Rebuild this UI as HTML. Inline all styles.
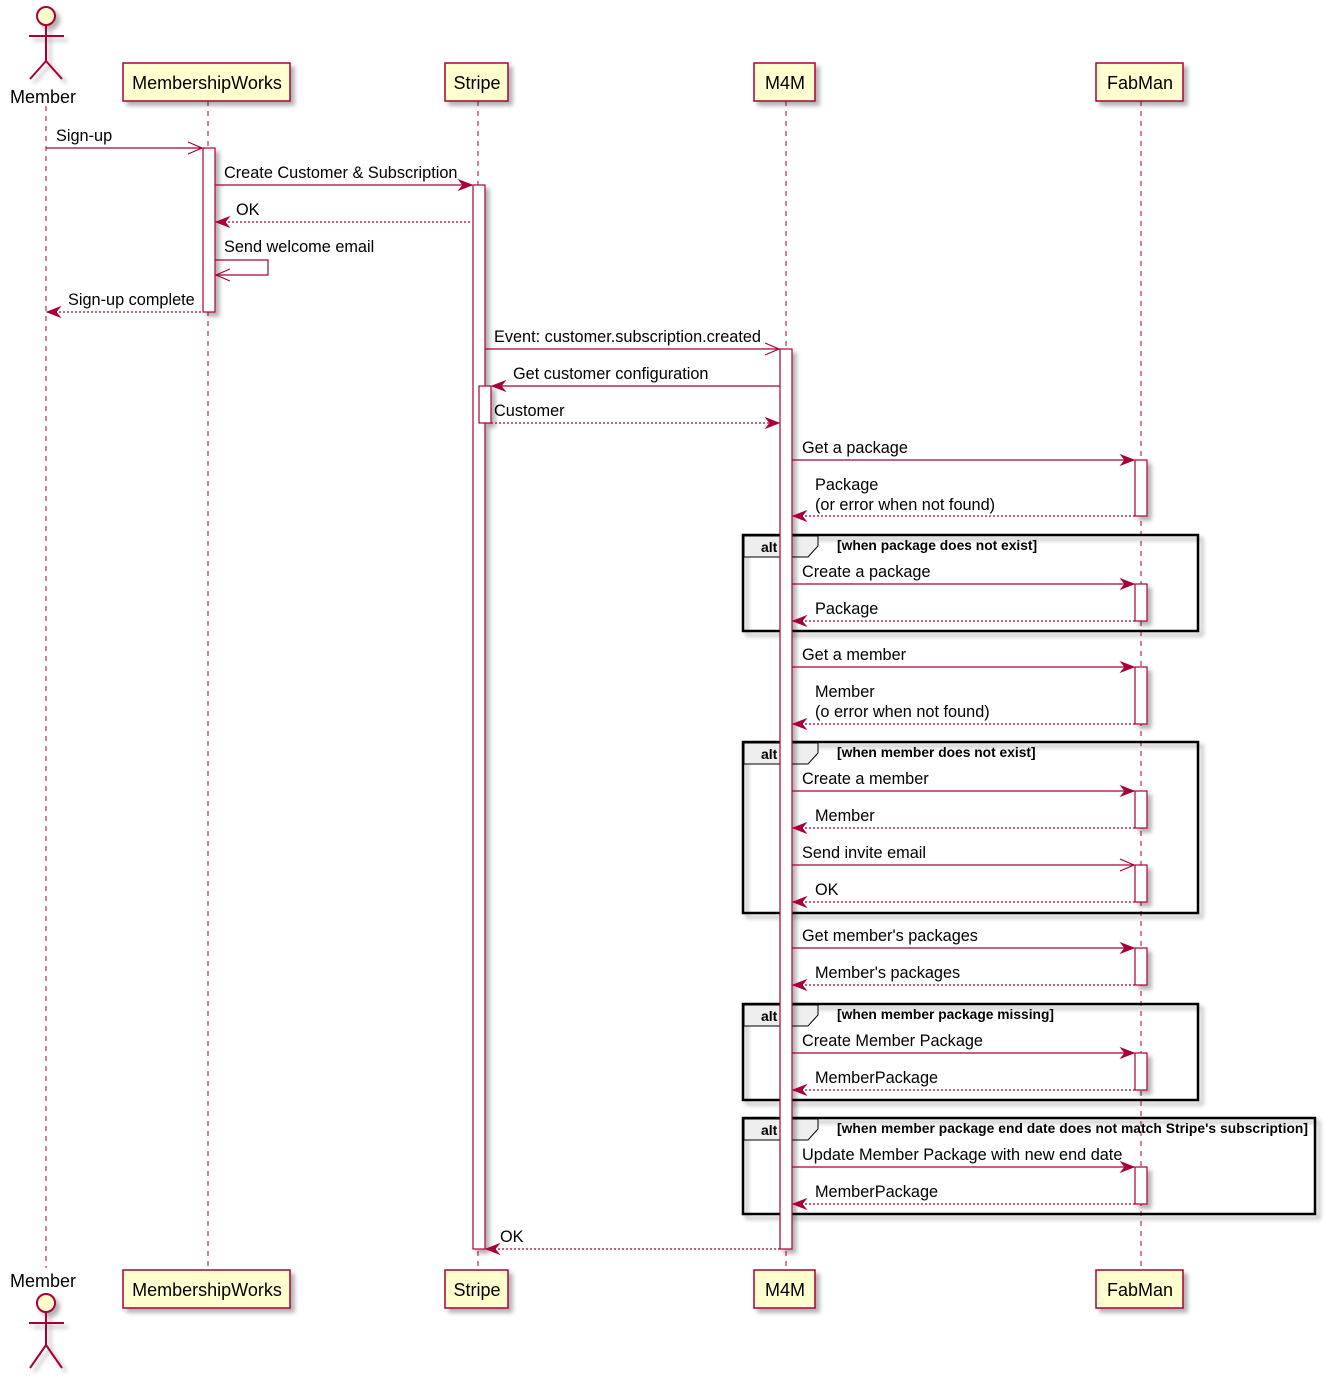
<!DOCTYPE html>
<html><head><meta charset="utf-8"><style>
html,body{margin:0;padding:0;background:#fff;}
svg{display:block;font-family:"Liberation Sans",sans-serif;}
</style></head><body>
<svg width="1328" height="1380" viewBox="0 0 1328 1380" xmlns="http://www.w3.org/2000/svg">
<defs>
<filter id="sh" x="-10%" y="-10%" width="130%" height="130%"><feDropShadow dx="4" dy="4" stdDeviation="2" flood-color="#000" flood-opacity="0.3"/></filter>
</defs>
<g stroke="#A80036" stroke-width="1" stroke-dasharray="5,5" fill="none">
<line x1="46" y1="106" x2="46" y2="1268"/>
<line x1="208" y1="101" x2="208" y2="1270"/>
<line x1="478" y1="101" x2="478" y2="1270"/>
<line x1="786" y1="101" x2="786" y2="1270"/>
<line x1="1141" y1="101" x2="1141" y2="1270"/>
</g>
<g stroke="#A80036" stroke-width="2" fill="none" filter="url(#sh)">
<circle cx="46" cy="16" r="9" fill="#FEFECE"/>
<line x1="46" y1="25" x2="46" y2="61"/><line x1="29" y1="36" x2="64" y2="36"/>
<line x1="46" y1="61" x2="30" y2="79"/><line x1="46" y1="61" x2="62" y2="79"/>
<circle cx="46" cy="1303" r="9" fill="#FEFECE"/>
<line x1="46" y1="1312" x2="46" y2="1345"/><line x1="29" y1="1323" x2="64" y2="1323"/>
<line x1="46" y1="1345" x2="30" y2="1368"/><line x1="46" y1="1345" x2="62" y2="1368"/>
</g>
<g font-size="18" fill="#000">
<text x="10" y="103">Member</text><text x="10" y="1287">Member</text>
</g>
<g fill="#FEFECE" stroke="#A80036" stroke-width="1.5" filter="url(#sh)">
<rect x="123" y="63" width="167" height="38"/><rect x="445" y="63" width="63" height="38"/>
<rect x="754" y="63" width="61" height="38"/><rect x="1096" y="63" width="87" height="38"/>
<rect x="123" y="1270" width="167" height="38"/><rect x="445" y="1270" width="63" height="38"/>
<rect x="754" y="1270" width="61" height="38"/><rect x="1096" y="1270" width="87" height="38"/>
</g>
<g font-size="18" fill="#000" text-anchor="middle">
<text x="207" y="89">MembershipWorks</text><text x="477" y="89">Stripe</text><text x="785" y="89">M4M</text><text x="1140" y="89">FabMan</text>
<text x="207" y="1296">MembershipWorks</text><text x="477" y="1296">Stripe</text><text x="785" y="1296">M4M</text><text x="1140" y="1296">FabMan</text>
</g>
<g fill="none" stroke="#000" stroke-width="2.5" filter="url(#sh)">
<rect x="743" y="535" width="455" height="96"/>
<rect x="743" y="742" width="455" height="171"/>
<rect x="743" y="1004" width="455" height="96"/>
<rect x="743" y="1118" width="572" height="96"/>
</g>
<g fill="#EEEEEE" stroke="#000" stroke-width="1">
<polygon points="744,536 818,536 818,546 808,557 744,557"/>
<polygon points="744,743 818,743 818,753 808,764 744,764"/>
<polygon points="744,1005 818,1005 818,1015 808,1026 744,1026"/>
<polygon points="744,1119 818,1119 818,1129 808,1140 744,1140"/>
</g>
<g fill="#fff" stroke="#A80036" stroke-width="1.2" filter="url(#sh)">
<rect x="203" y="148" width="12" height="164"/>
<rect x="473" y="185" width="12" height="1064"/>
<rect x="780" y="349" width="12" height="900"/>
<rect x="479" y="386" width="12" height="37"/>
<rect x="1135" y="460" width="12" height="56"/>
<rect x="1135" y="584" width="12" height="37"/>
<rect x="1135" y="667" width="12" height="57"/>
<rect x="1135" y="791" width="12" height="37"/>
<rect x="1135" y="865" width="12" height="37"/>
<rect x="1135" y="948" width="12" height="37"/>
<rect x="1135" y="1053" width="12" height="37"/>
<rect x="1135" y="1167" width="12" height="37"/>
</g>
<g font-size="14" font-weight="bold" fill="#000">
<text x="761" y="552">alt</text><text x="761" y="759">alt</text><text x="761" y="1021">alt</text><text x="761" y="1135">alt</text>
</g>
<g font-size="13.8" font-weight="bold" fill="#000">
<text x="837" y="550">[when package does not exist]</text>
<text x="837" y="757">[when member does not exist]</text>
<text x="837" y="1019">[when member package missing]</text>
<text x="837" y="1133" textLength="471">[when member package end date does not match Stripe's subscription]</text>
</g>
<g stroke="#A80036" stroke-width="1.2" fill="none">
<line x1="46" y1="148" x2="202" y2="148"/><polyline points="188,142 202,148 188,154"/>
<line x1="215" y1="185" x2="472" y2="185"/>
<polyline points="215,260 268,260 268,275 216,275"/><polyline points="230,269 216,275 230,281"/>
<line x1="485" y1="349" x2="779" y2="349"/><polyline points="765,343 779,349 765,355"/>
<line x1="492" y1="386" x2="780" y2="386"/>
<line x1="792" y1="460" x2="1134" y2="460"/>
<line x1="792" y1="584" x2="1134" y2="584"/>
<line x1="792" y1="667" x2="1134" y2="667"/>
<line x1="792" y1="791" x2="1134" y2="791"/>
<line x1="792" y1="865" x2="1134" y2="865"/><polyline points="1120,859 1134,865 1120,871"/>
<line x1="792" y1="948" x2="1134" y2="948"/>
<line x1="792" y1="1053" x2="1134" y2="1053"/>
<line x1="792" y1="1167" x2="1134" y2="1167"/>
</g>
<g stroke="#A80036" stroke-width="1.2" fill="none" stroke-dasharray="2,2">
<line x1="216" y1="222" x2="472" y2="222"/>
<line x1="47" y1="312" x2="203" y2="312"/>
<line x1="491" y1="423" x2="779" y2="423"/>
<line x1="793" y1="516" x2="1135" y2="516"/>
<line x1="793" y1="621" x2="1135" y2="621"/>
<line x1="793" y1="724" x2="1135" y2="724"/>
<line x1="793" y1="828" x2="1135" y2="828"/>
<line x1="793" y1="902" x2="1135" y2="902"/>
<line x1="793" y1="985" x2="1135" y2="985"/>
<line x1="793" y1="1090" x2="1135" y2="1090"/>
<line x1="793" y1="1204" x2="1135" y2="1204"/>
<line x1="486" y1="1249" x2="780" y2="1249"/>
</g>
<g fill="#A80036" stroke="#A80036" stroke-width="1">
<polygon points="459,180 472,185 459,190 463,185"/>
<polygon points="229,217 216,222 229,227 225,222"/>
<polygon points="60,307 47,312 60,317 56,312"/>
<polygon points="505,381 492,386 505,391 501,386"/>
<polygon points="766,418 779,423 766,428 770,423"/>
<polygon points="1121,455 1134,460 1121,465 1125,460"/>
<polygon points="806,511 793,516 806,521 802,516"/>
<polygon points="1121,579 1134,584 1121,589 1125,584"/>
<polygon points="806,616 793,621 806,626 802,621"/>
<polygon points="1121,662 1134,667 1121,672 1125,667"/>
<polygon points="806,719 793,724 806,729 802,724"/>
<polygon points="1121,786 1134,791 1121,796 1125,791"/>
<polygon points="806,823 793,828 806,833 802,828"/>
<polygon points="806,897 793,902 806,907 802,902"/>
<polygon points="1121,943 1134,948 1121,953 1125,948"/>
<polygon points="806,980 793,985 806,990 802,985"/>
<polygon points="1121,1048 1134,1053 1121,1058 1125,1053"/>
<polygon points="806,1085 793,1090 806,1095 802,1090"/>
<polygon points="1121,1162 1134,1167 1121,1172 1125,1167"/>
<polygon points="806,1199 793,1204 806,1209 802,1204"/>
<polygon points="499,1244 486,1249 499,1254 495,1249"/>
</g>
<g font-size="16.3" fill="#000">
<text x="56" y="141">Sign-up</text>
<text x="224" y="178">Create Customer &amp; Subscription</text>
<text x="236" y="215">OK</text>
<text x="224" y="252">Send welcome email</text>
<text x="68" y="305">Sign-up complete</text>
<text x="494" y="342">Event: customer.subscription.created</text>
<text x="513" y="379">Get customer configuration</text>
<text x="494" y="416">Customer</text>
<text x="802" y="453">Get a package</text>
<text x="815" y="490">Package</text>
<text x="815" y="510">(or error when not found)</text>
<text x="802" y="577">Create a package</text>
<text x="815" y="614">Package</text>
<text x="802" y="660">Get a member</text>
<text x="815" y="697">Member</text>
<text x="815" y="717">(o error when not found)</text>
<text x="802" y="784">Create a member</text>
<text x="815" y="821">Member</text>
<text x="802" y="858">Send invite email</text>
<text x="815" y="895">OK</text>
<text x="802" y="941">Get member's packages</text>
<text x="815" y="978">Member's packages</text>
<text x="802" y="1046">Create Member Package</text>
<text x="815" y="1083">MemberPackage</text>
<text x="802" y="1160">Update Member Package with new end date</text>
<text x="815" y="1197">MemberPackage</text>
<text x="500" y="1242">OK</text>
</g>
</svg>
</body></html>
